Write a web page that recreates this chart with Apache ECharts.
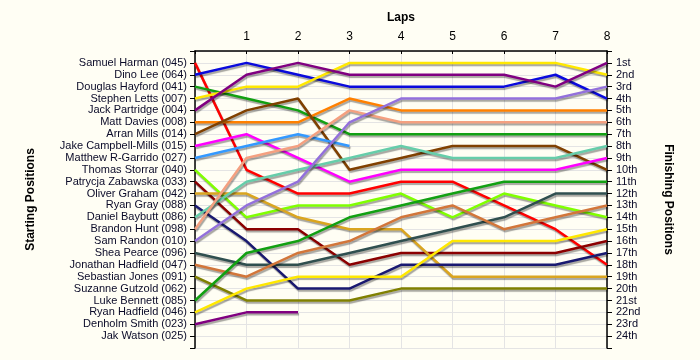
<!DOCTYPE html>
<html>
<head>
<meta charset="utf-8">
<script src="https://cdn.jsdelivr.net/npm/echarts@6/dist/echarts.min.js"></script>
<style>html,body{margin:0;padding:0;background:#FFFEF4;}#c{width:700px;height:360px;}</style>
</head>
<body>
<div id="c"></div>
<script>
const laps = [0, 1, 2, 3, 4, 5, 6, 7, 8];
const lapTickLabels = ['', '1', '2', '3', '4', '5', '6', '7', '8'];
const drivers = [
  'Samuel Harman (045)', 'Dino Lee (064)', 'Douglas Hayford (041)', 'Stephen Letts (007)',
  'Jack Partridge (004)', 'Matt Davies (008)', 'Arran Mills (014)', 'Jake Campbell-Mills (015)',
  'Matthew R-Garrido (027)', 'Thomas Storrar (040)', 'Patrycja Zabawska (033)', 'Oliver Graham (042)',
  'Ryan Gray (088)', 'Daniel Baybutt (086)', 'Brandon Hunt (098)', 'Sam Randon (010)',
  'Shea Pearce (096)', 'Jonathan Hadfield (047)', 'Sebastian Jones (091)', 'Suzanne Gutzold (062)',
  'Luke Bennett (085)', 'Ryan Hadfield (046)', 'Denholm Smith (023)', 'Jak Watson (025)'
];
const finishLabels = ['1st','2nd','3rd','4th','5th','6th','7th','8th','9th','10th','11th','12th',
  '13th','14th','15th','16th','17th','18th','19th','20th','21st','22nd','23rd','24th'];
// position of each driver at lap 0..8 (missing laps = retired)
const positions = [
  [1, 10, 12, 12, 11, 11, 13, 15, 18],
  [2, 1, 2, 3, 3, 3, 3, 2, 4],
  [3, 4, 5, 7, 7, 7, 7, 7, 7],
  [4, 3, 3, 1, 1, 1, 1, 1, 2],
  [5, 2, 1, 2, 2, 2, 2, 3, 1],
  [6, 6, 6, 4, 5, 5, 5, 5, 5],
  [7, 5, 4, 10, 9, 8, 8, 8, 10],
  [8, 7, 9, 11, 10, 10, 10, 10, 9],
  [9, 8, 7, 8],
  [10, 14, 13, 13, 12, 14, 12, 13, 14],
  [11, 15, 15, 18, 17, 17, 17, 17, 16],
  [12, 12, 14, 15, 15, 19, 19, 19, 19],
  [13, 16, 20, 20, 18, 18, 18, 18, 17],
  [14, 11, 10, 9, 8, 9, 9, 9, 8],
  [15, 9, 8, 5, 6, 6, 6, 6, 6],
  [16, 13, 11, 6, 4, 4, 4, 4, 3],
  [17, 18, 18, 17, 16, 15, 14, 12, 12],
  [18, 19, 17, 16, 14, 13, 15, 14, 13],
  [19, 21, 21, 21, 20, 20, 20, 20, 20],
  [],
  [21, 17, 16, 14, 13, 12, 11, 11, 11],
  [22, 20, 19, 19, 19, 16, 16, 16, 15],
  [23, 22, 22],
  []
];
const colors = ['#FF0000', '#0A0ADC', '#12A012', '#FFE800', '#800080', '#FF8000', '#804000', '#FF00FF',
  '#3399FF', '#80FF00', '#8B0000', '#DAA520', '#191970', '#66CDAA', '#F4A080', '#9370DB',
  '#2F4F4F', '#D2763A', '#808000', '#888888', '#12A012', '#FFE800', '#800080', '#888888'];

const series = [];
drivers.forEach((name, i) => {
  const p = positions[i];
  if (!p.length) return;
  series.push({
    type: 'line', name: name, showSymbol: false, symbol: 'none',
    data: p.map((v, k) => [laps[k], v]),
    lineStyle: { color: colors[i], width: 2.5, shadowColor: 'rgba(0,0,0,0.35)', shadowOffsetX: 1, shadowOffsetY: 2, shadowBlur: 1 },
    itemStyle: { color: colors[i] },
    animation: false
  });
});

const chart = echarts.init(document.getElementById('c'), null, { renderer: 'canvas' });
const font = 'Liberation Sans';
chart.setOption({
  backgroundColor: '#FFFEF4',
  animation: false,
  grid: { left: 195, right: 93, top: 51, bottom: 12 },
  xAxis: {
    type: 'value', position: 'top', min: 0, max: 8, interval: 1,
    name: 'Laps', nameLocation: 'middle', nameGap: 27,
    nameTextStyle: { fontFamily: font, fontSize: 12, fontWeight: 'bold', color: '#000' },
    axisLine: { show: true, lineStyle: { color: '#000', width: 1.5 } },
    axisTick: { show: true, inside: true, length: 3, lineStyle: { color: '#000' } },
    axisLabel: { fontFamily: font, fontSize: 12, color: '#000', margin: 8, formatter: v => lapTickLabels[v] || '' },
    splitLine: { show: true, lineStyle: { color: '#E4E4E4', width: 1 } }
  },
  yAxis: [{
    type: 'value', position: 'left', inverse: true, min: 0, max: 25, interval: 1,
    name: 'Starting Positions', nameLocation: 'middle', nameGap: 158, nameRotate: 90,
    nameTextStyle: { fontFamily: font, fontSize: 12, fontWeight: 'bold', color: '#000' },
    axisLine: { show: true, lineStyle: { color: '#000', width: 1.5 } },
    axisTick: { show: true, length: 5, lineStyle: { color: '#000' } },
    axisLabel: { fontFamily: font, fontSize: 11, color: '#0A0A28', margin: 8, formatter: v => drivers[v - 1] || '' },
    splitLine: { show: true, lineStyle: { color: '#E4E4E4', width: 1 } }
  }, {
    type: 'value', position: 'right', inverse: true, min: 0, max: 25, interval: 1,
    name: 'Finishing Positions', nameLocation: 'middle', nameGap: 55, nameRotate: -90,
    nameTextStyle: { fontFamily: font, fontSize: 12, fontWeight: 'bold', color: '#000' },
    axisLine: { show: true, lineStyle: { color: '#000', width: 1.5 } },
    axisTick: { show: true, length: 5, lineStyle: { color: '#000' } },
    axisLabel: { fontFamily: font, fontSize: 11, color: '#0A0A28', margin: 9, formatter: v => finishLabels[v - 1] || '' },
    splitLine: { show: false }
  }],
  series: series
});
</script>
</body>
</html>
